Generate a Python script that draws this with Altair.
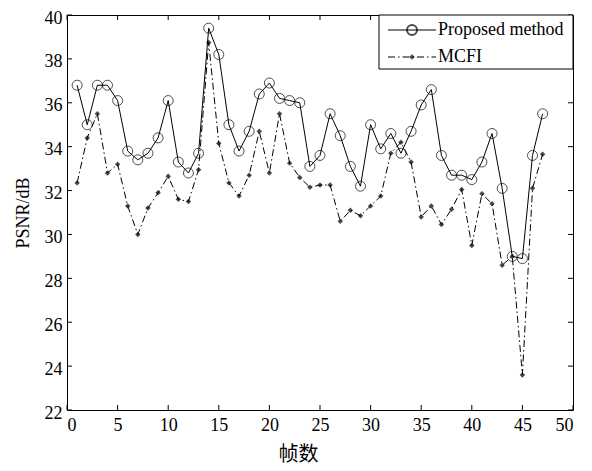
import altair as alt
import pandas as pd

frames = list(range(1, 48))
proposed = [36.8, 35.0, 36.8, 36.8, 36.1, 33.8, 33.4, 33.7, 34.4, 36.1,
            33.3, 32.8, 33.7, 39.4, 38.2, 35.0, 33.8, 34.7, 36.4, 36.9,
            36.2, 36.1, 36.0, 33.1, 33.6, 35.5, 34.5, 33.1, 32.2, 35.0,
            33.9, 34.6, 33.7, 34.7, 35.9, 36.6, 33.6, 32.7, 32.7, 32.5,
            33.3, 34.6, 32.1, 29.0, 28.9, 33.6, 35.5]
mcfi = [32.35, 34.4, 35.5, 32.8, 33.2, 31.3, 30.0, 31.2, 31.9, 32.65,
        31.6, 31.5, 32.95, 38.75, 34.15, 32.35, 31.75, 32.7, 34.7, 32.8,
        35.5, 33.25, 32.6, 32.15, 32.25, 32.25, 30.6, 31.1, 30.85, 31.3,
        31.75, 33.7, 34.2, 33.3, 30.8, 31.3, 30.45, 31.15, 32.05, 29.5,
        31.85, 31.4, 28.6, 29.0, 23.6, 32.1, 33.65]
series_names = ["Proposed method", "MCFI"]
x_ticks = [0, 5, 10, 15, 20, 25, 30, 35, 40, 45, 50]
y_ticks = [22, 24, 26, 28, 30, 32, 34, 36, 38, 40]
x_title = "帧数"
y_title = "PSNR/dB"

W, H = 506, 395
SERIF = "Liberation Serif"
DASH = [7, 3, 1.5, 3]

df_p = pd.DataFrame({"frame": frames, "psnr": proposed})
df_m = pd.DataFrame({"frame": frames, "psnr": mcfi})

xscale = alt.Scale(domain=[0, 50], nice=False, zero=False)
yscale = alt.Scale(domain=[22, 40], nice=False, zero=False)

x_axis = alt.Axis(values=x_ticks, ticks=False, domain=False, grid=False,
                  labelFont=SERIF, labelFontSize=18, labelPadding=6,
                  labelColor="black", title=x_title,
                  titleFont="Noto Sans CJK SC", titleFontSize=20,
                  titleFontWeight="normal", titleColor="black",
                  titlePadding=10, titleX=231)
y_axis = alt.Axis(values=y_ticks, ticks=False, domain=False, grid=False,
                  labelFont=SERIF, labelFontSize=18, labelPadding=5,
                  labelOffset=3,
                  labelColor="black", title=y_title,
                  titleFont=SERIF, titleFontSize=18,
                  titleFontWeight="normal", titleColor="black",
                  titlePadding=12)

X = alt.X("frame:Q", scale=xscale, axis=x_axis)
Y = alt.Y("psnr:Q", scale=yscale, axis=y_axis)

line_m = alt.Chart(df_m).mark_line(color="black", strokeWidth=1,
                                   strokeDash=DASH).encode(x=X, y=Y)
pts_m = alt.Chart(df_m).mark_point(shape="diamond", filled=True, color="black",
                                   size=30).encode(x=X, y=Y)
line_p = alt.Chart(df_p).mark_line(color="black", strokeWidth=1).encode(x=X, y=Y)
pts_p = alt.Chart(df_p).mark_point(shape="circle", filled=False, color="black",
                                   strokeWidth=1, size=100).encode(x=X, y=Y)

# inward ticks on all four sides
xt = pd.DataFrame({"frame": x_ticks})
yt = pd.DataFrame({"psnr": y_ticks})
tk = 5
tick_b = alt.Chart(xt).mark_rule(color="black", strokeWidth=1).encode(
    x=X, y=alt.value(H), y2=alt.value(H - tk))
tick_t = alt.Chart(xt).mark_rule(color="black", strokeWidth=1).encode(
    x=X, y=alt.value(0), y2=alt.value(tk))
tick_l = alt.Chart(yt).mark_rule(color="black", strokeWidth=1).encode(
    y=Y, x=alt.value(0), x2=alt.value(tk))
tick_r = alt.Chart(yt).mark_rule(color="black", strokeWidth=1).encode(
    y=Y, x=alt.value(W), x2=alt.value(W - tk))

# legend box
leg = pd.DataFrame({"name": series_names})
lx0, lx1, ly0, ly1 = 312, W, 0, 54
row_y = [15, 42]
box = alt.Chart(leg.head(1)).mark_rect(fill="white", stroke="black",
                                       strokeWidth=1).encode(
    x=alt.value(lx0), x2=alt.value(lx1), y=alt.value(ly0), y2=alt.value(ly1))
leg_line_p = alt.Chart(leg.head(1)).mark_rule(color="black", strokeWidth=1).encode(
    x=alt.value(321), x2=alt.value(369), y=alt.value(row_y[0]))
leg_line_m = alt.Chart(leg.tail(1)).mark_rule(color="black", strokeWidth=1,
                                              strokeDash=DASH).encode(
    x=alt.value(321), x2=alt.value(369), y=alt.value(row_y[1]))
leg_pt_p = alt.Chart(leg.head(1)).mark_point(shape="circle", filled=False,
                                             color="black", size=100).encode(
    x=alt.value(345), y=alt.value(row_y[0]))
leg_pt_m = alt.Chart(leg.tail(1)).mark_point(shape="diamond", filled=True,
                                             color="black", size=30).encode(
    x=alt.value(345), y=alt.value(row_y[1]))
leg_txt_p = alt.Chart(leg.head(1)).mark_text(align="left", baseline="middle",
                                             font=SERIF, fontSize=18,
                                             color="black").encode(
    x=alt.value(371), y=alt.value(row_y[0]), text="name:N")
leg_txt_m = alt.Chart(leg.tail(1)).mark_text(align="left", baseline="middle",
                                             font=SERIF, fontSize=18,
                                             color="black").encode(
    x=alt.value(371), y=alt.value(row_y[1]), text="name:N")

chart = alt.layer(
    line_m, pts_m, line_p, pts_p,
    tick_b, tick_t, tick_l, tick_r,
    box, leg_line_p, leg_line_m, leg_pt_p, leg_pt_m, leg_txt_p, leg_txt_m,
).properties(
    width=W, height=H,
    autosize=alt.AutoSizeParams(type="none"),
    padding={"left": 59, "top": 7, "right": 11, "bottom": 60},
    background="white",
).configure_view(stroke="black", strokeWidth=1)

chart.save("out.html", embed_options={"renderer": "svg", "actions": False})
